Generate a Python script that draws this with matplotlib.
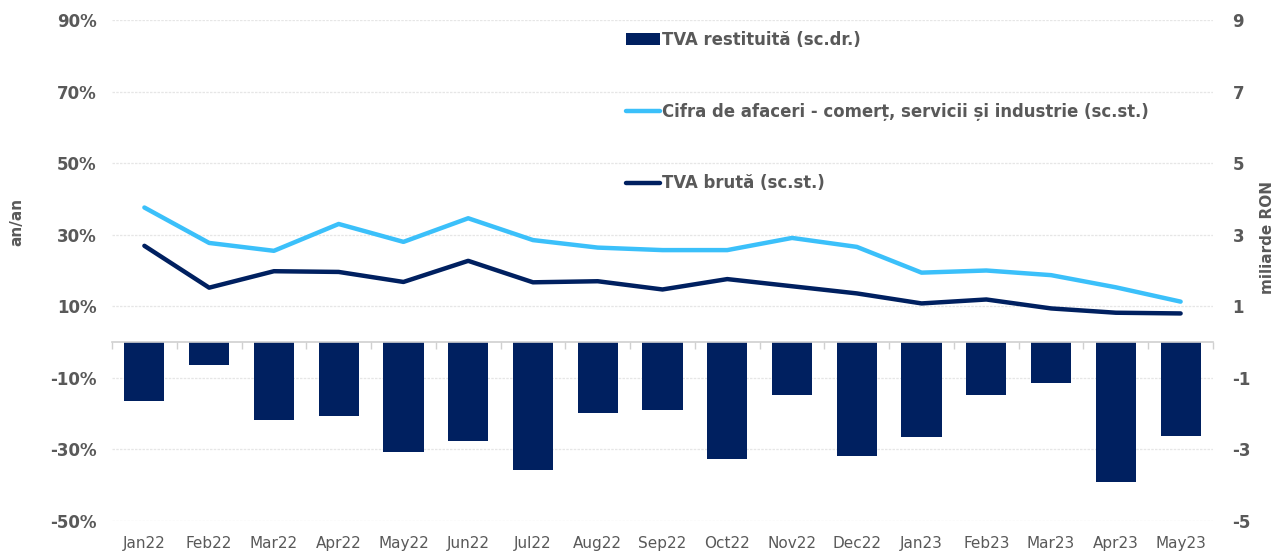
import matplotlib
matplotlib.use('Agg')
import matplotlib.pyplot as plt
import numpy as np

# Datos
luni = ['Jan22', 'Feb22', 'Mar22', 'Apr22', 'May22', 'Jun22', 'Jul22', 'Aug22', 'Sep22',
        'Oct22', 'Nov22', 'Dec22', 'Jan23', 'Feb23', 'Mar23', 'Apr23', 'May23']
tva_restituita = [-1.64, -0.65, -2.18, -2.06, -3.06, -2.76, -3.58, -1.97, -1.91,
                  -3.26, -1.49, -3.19, -2.64, -1.49, -1.15, -3.92, -2.62]
cifra_afaceri = [37.6, 27.7, 25.5, 33.0, 28.0, 34.6, 28.5, 26.4, 25.7,
                 25.7, 29.1, 26.6, 19.4, 20.0, 18.7, 15.3, 11.3]
tva_bruta = [26.9, 15.2, 19.8, 19.6, 16.8, 22.7, 16.7, 17.0, 14.7,
             17.6, 15.6, 13.6, 10.8, 11.9, 9.4, 8.2, 8.0]
ticks_st = [-50, -30, -10, 10, 30, 50, 70, 90]
ticks_dr = [-5, -3, -1, 1, 3, 5, 7, 9]

navy = '#002060'
albastru = '#3BC0FA'
gri = '#595959'

fig = plt.figure(figsize=(12.78, 5.52), dpi=100)
ax = fig.add_axes([112/1278, 31/552, 1101/1278, 501/552])
ax2 = ax.twinx()

x = np.arange(len(luni))

# Bare pe axa din dreapta
barras = ax2.bar(x, tva_restituita, width=0.62, color=navy, zorder=2,
                 label='TVA restituită (sc.dr.)')

# Linii pe axa din stanga
l1, = ax.plot(x, cifra_afaceri, color=albastru, lw=3.2, solid_capstyle='round', zorder=3,
              label='Cifra de afaceri - comerț, servicii și industrie (sc.st.)')
l2, = ax.plot(x, tva_bruta, color=navy, lw=3.2, solid_capstyle='round', zorder=3,
              label='TVA brută (sc.st.)')
ax.set_zorder(ax2.get_zorder() + 1)
ax.patch.set_visible(False)

ax.set_xlim(-0.5, len(luni) - 0.5)
ax.set_ylim(-50, 90)
ax2.set_ylim(-5, 9)

ax.set_yticks(ticks_st)
ax.set_yticklabels([f'{t}%' for t in ticks_st])
ax2.set_yticks(ticks_dr)
ax2.set_yticklabels([str(t) for t in ticks_dr])

# grila pe axa din dreapta ca sa ramana sub bare
ax2.grid(axis='y', color='#e6e6e6', linestyle=(0, (2, 1)), linewidth=0.9)
ax2.set_axisbelow(True)

for a in (ax, ax2):
    for s in a.spines.values():
        s.set_visible(False)

ax.tick_params(axis='y', length=0, pad=11, labelsize=12, labelcolor=gri)
ax2.tick_params(axis='y', length=0, pad=14, labelsize=12, labelcolor=gri)
for lab in ax.get_yticklabels() + ax2.get_yticklabels():
    lab.set_fontweight('bold')

ax.set_xticks(x)
ax.set_xticklabels(luni)
ax.tick_params(axis='x', length=0, pad=11, labelsize=11, labelcolor=gri)

# Axa orizontala la zero cu marcaje intre categorii
zero_loc = (0 - ax.get_ylim()[0]) / (ax.get_ylim()[1] - ax.get_ylim()[0])
sec = ax.secondary_xaxis(zero_loc)
sec.set_xticks(np.arange(-0.5, len(luni), 1.0))
sec.set_xticklabels([])
sec.tick_params(axis='x', direction='out', length=5, width=1, color='#d0d0d0')
for s in sec.spines.values():
    s.set_visible(False)
sec.spines['bottom'].set_visible(True)
sec.spines['bottom'].set_color('#d0d0d0')
sec.spines['bottom'].set_linewidth(1.2)

ax.set_ylabel('an/an', fontsize=11, fontweight='bold', color=gri)
ax.yaxis.set_label_coords(-0.080, 0.597)
ax2.set_ylabel('miliarde RON', fontsize=11, fontweight='bold', color=gri)
ax2.yaxis.set_label_coords(1.0427, 0.565)

leg = fig.legend(handles=[barras, l1, l2], loc='upper left',
                 bbox_to_anchor=(626/1278, 1 - 31/552), bbox_transform=fig.transFigure,
                 frameon=False, fontsize=11.9, labelspacing=3.25, handlelength=2.05,
                 handletextpad=0.1, borderpad=0, borderaxespad=0)
for t in leg.get_texts():
    t.set_fontweight('bold')
    t.set_color(gri)

fig.savefig('out.png', dpi=100)
